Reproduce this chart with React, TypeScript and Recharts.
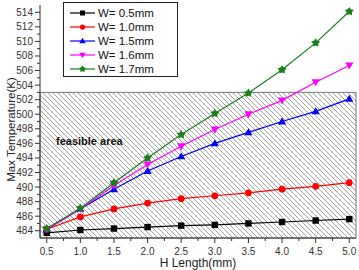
import { Legend, Line, LineChart, ReferenceArea, XAxis, YAxis } from 'recharts'

// H length (mm) and max temperature (K) for each channel width
const lengths = [0.5, 1.0, 1.5, 2.0, 2.5, 3.0, 3.5, 4.0, 4.5, 5.0]
const w05 = [483.7, 484.1, 484.3, 484.5, 484.7, 484.8, 485.0, 485.2, 485.4, 485.6]
const w10 = [484.2, 485.9, 487.0, 487.8, 488.4, 488.8, 489.2, 489.7, 490.1, 490.6]
const w15 = [484.2, 487.0, 489.7, 492.2, 494.2, 496.0, 497.5, 499.0, 500.4, 502.1]
const w16 = [484.2, 487.0, 490.2, 493.1, 495.6, 497.9, 500.0, 501.9, 504.4, 506.7]
const w17 = [484.3, 487.1, 490.6, 494.0, 497.2, 500.1, 502.9, 506.1, 509.8, 514.1]

const feasibleLimit = 503
const xDomain: [number, number] = [0.4, 5.1]
const yDomain: [number, number] = [483, 515]
const xTicks = Array.from({ length: 19 }, (_, i) => 0.5 + i * 0.25)
const yTicks = Array.from({ length: 31 }, (_, i) => 484 + i)

type Shape = 'square' | 'circle' | 'up' | 'down' | 'star'

const series: { key: string; name: string; color: string; shape: Shape; values: number[] }[] = [
  { key: 'w05', name: 'W= 0.5mm', color: '#000000', shape: 'square', values: w05 },
  { key: 'w10', name: 'W= 1.0mm', color: '#ff0000', shape: 'circle', values: w10 },
  { key: 'w15', name: 'W= 1.5mm', color: '#0000ff', shape: 'up', values: w15 },
  { key: 'w16', name: 'W= 1.6mm', color: '#ff00ff', shape: 'down', values: w16 },
  { key: 'w17', name: 'W= 1.7mm', color: '#1a801a', shape: 'star', values: w17 },
]

const data = lengths.map((h, i) => {
  const row: Record<string, number> = { h }
  series.forEach(s => { row[s.key] = s.values[i] })
  return row
})

const FONT = '"Liberation Sans", Arial, sans-serif'
const AXIS = '#333'

function Marker({ cx, cy, shape, color, s }: { cx: number; cy: number; shape: Shape; color: string; s: number }) {
  if (shape === 'square') return <rect x={cx - s} y={cy - s} width={2 * s} height={2 * s} fill={color} />
  if (shape === 'circle') return <circle cx={cx} cy={cy} r={s * 1.05} fill={color} />
  if (shape === 'up') {
    const r = s * 1.3
    return <polygon points={`${cx},${cy - r} ${cx + r},${cy + r * 0.7} ${cx - r},${cy + r * 0.7}`} fill={color} />
  }
  if (shape === 'down') {
    const r = s * 1.3
    return <polygon points={`${cx},${cy + r} ${cx + r},${cy - r * 0.7} ${cx - r},${cy - r * 0.7}`} fill={color} />
  }
  const pts: string[] = []
  for (let i = 0; i < 10; i++) {
    const a = -Math.PI / 2 + (i * Math.PI) / 5
    const r = i % 2 === 0 ? s * 1.45 : s * 0.85
    pts.push(`${cx + r * Math.cos(a)},${cy + r * Math.sin(a)}`)
  }
  return <polygon points={pts.join(' ')} fill={color} />
}

const dotFor = (shape: Shape, color: string) => (p: any) =>
  <Marker key={p.index} cx={p.cx} cy={p.cy} shape={shape} color={color} s={3.2} />

// major ticks carry labels, minor ticks are short marks only
const YTick = (p: any) => {
  const ax = p.x + 7
  const major = p.payload.value % 2 === 0
  return (
    <g>
      <line x1={ax - (major ? 5 : 3)} x2={ax} y1={p.y} y2={p.y} stroke={AXIS} />
      {major && (
        <text x={ax - 7} y={p.y} dy={3.5} textAnchor="end" fontSize={10} fill={AXIS} fontFamily={FONT}>
          {p.payload.value}
        </text>
      )}
    </g>
  )
}

const XTick = (p: any) => {
  const ay = p.y - 9
  const major = Math.abs(p.payload.value * 2 - Math.round(p.payload.value * 2)) < 1e-6
  return (
    <g>
      <line x1={p.x} x2={p.x} y1={ay} y2={ay + (major ? 5 : 3)} stroke={AXIS} />
      {major && (
        <text x={p.x} y={ay + 9} dy={7.5} textAnchor="middle" fontSize={10} fill={AXIS} fontFamily={FONT}>
          {p.payload.value.toFixed(1)}
        </text>
      )}
    </g>
  )
}

const LegendBox = () => (
  <div
    style={{
      border: '1px solid #222',
      background: '#fff',
      boxSizing: 'border-box',
      width: 115,
      height: 75,
      paddingTop: 3,
      fontFamily: FONT,
      fontSize: 11.5,
      color: '#111',
    }}
  >
    {series.map(s => (
      <div key={s.key} style={{ height: 14, display: 'flex', alignItems: 'center' }}>
        <svg width={34} height={14} style={{ flex: 'none' }}>
          <line x1={6} x2={31} y1={7} y2={7} stroke={s.color} strokeWidth={1.2} />
          <Marker cx={18.5} cy={7} shape={s.shape} color={s.color} s={2.5} />
        </svg>
        <span style={{ whiteSpace: 'nowrap' }}>{s.name}</span>
      </div>
    ))}
  </div>
)

export default function App() {
  return (
    <div style={{ position: 'absolute', left: 0, top: 0, width: 359, height: 270, background: '#fff', overflow: 'hidden' }}>
      <LineChart width={359} height={270} data={data} margin={{ top: 5, right: 3, bottom: 8, left: 10 }}>
        <defs>
          <pattern id="hatch" patternUnits="userSpaceOnUse" width={5} height={5}>
            <path d="M-1,4 L1,6 M0,0 L5,5 M4,-1 L6,1" stroke="#8a8a8a" strokeWidth={0.8} />
          </pattern>
        </defs>
        <XAxis
          dataKey="h"
          type="number"
          domain={xDomain}
          ticks={xTicks}
          interval={0}
          height={24}
          tickSize={5}
          tickMargin={4}
          tickLine={false}
          tick={<XTick />}
          stroke={AXIS}
          label={(p: any) => (
            <text x={p.viewBox.x + p.viewBox.width / 2} y={p.viewBox.y + 29} textAnchor="middle" fontSize={12} fill="#222" fontFamily={FONT}>
              H Length(mm)
            </text>
          )}
        />
        <YAxis
          type="number"
          domain={yDomain}
          ticks={yTicks}
          interval={0}
          width={30}
          tickSize={5}
          tickMargin={2}
          tickLine={false}
          tick={<YTick />}
          stroke={AXIS}
          label={(p: any) => {
            const x = p.viewBox.x - 3
            const y = p.viewBox.y + p.viewBox.height / 2 + 8
            return (
              <text x={x} y={y} transform={`rotate(-90 ${x} ${y})`} dy={8} textAnchor="middle" fontSize={11.5} fill="#222" fontFamily={FONT}>
                Max Temperature(K)
              </text>
            )
          }}
        />
        <ReferenceArea
          x1={xDomain[0]}
          x2={xDomain[1]}
          y1={yDomain[0]}
          y2={feasibleLimit}
          fill="url(#hatch)"
          fillOpacity={1}
          stroke="#777"
          strokeWidth={1}
          label={(p: any) => (
            <text x={p.viewBox.x + 16} y={p.viewBox.y + 53} fontSize={11} fontWeight="bold" fill="#111" fontFamily={FONT}>
              feasible area
            </text>
          )}
        />
        <Legend
          layout="vertical"
          align="center"
          verticalAlign="middle"
          content={<LegendBox />}
          wrapperStyle={{ left: 63, top: 2, width: 115 }}
        />
        {series.map(s => (
          <Line
            key={s.key}
            dataKey={s.key}
            name={s.name}
            stroke={s.color}
            strokeWidth={1.2}
            dot={dotFor(s.shape, s.color)}
            activeDot={false}
            isAnimationActive={false}
          />
        ))}
      </LineChart>
    </div>
  )
}
